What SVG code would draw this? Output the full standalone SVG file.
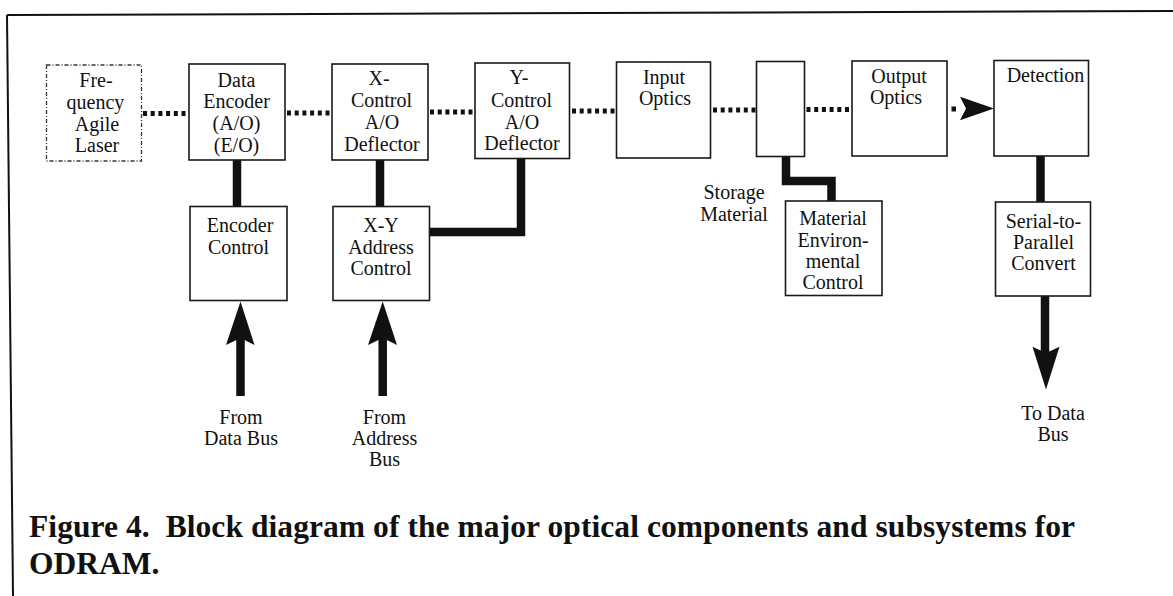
<svg xmlns="http://www.w3.org/2000/svg" width="1173" height="596" viewBox="0 0 1173 596">
<defs>
<style>
.bg{fill:#ffffff}
.box{fill:#ffffff;stroke:#1a1a1a;stroke-width:1.6}
.dash{fill:#ffffff;stroke:#333333;stroke-width:1.3;stroke-dasharray:4 2 1 2}
.frame{fill:none;stroke:#111111;stroke-width:2}
.dot{fill:none;stroke:#111111;stroke-width:5;stroke-dasharray:4 3.7}
.thick{fill:none;stroke:#111111;stroke-width:8.5;stroke-linejoin:miter}
.head{fill:#111111;stroke:none}
text{font-family:"Liberation Serif","Times New Roman",serif;font-size:20px;fill:#111111;text-anchor:middle}
.cap{font-size:31.5px;font-weight:bold;text-anchor:start}
</style>
</defs>
<rect class="bg" x="0" y="0" width="1173" height="596"/>
<g id="frame">
<path class="frame" d="M7,15 L1173,11"/>
<path class="frame" d="M7,15 L13,596"/>
</g>
<g id="connectors">
<path class="dot" d="M143,113.5 H189"/>
<path class="dot" d="M287,113 H332"/>
<path class="dot" d="M430,112 H475"/>
<path class="dot" d="M572,111 H616.5"/>
<path class="dot" d="M713,110 H756.5"/>
<path class="dot" d="M806.5,109.5 H852"/>
<rect class="head" x="951.5" y="106.5" width="4.5" height="5"/>
<polygon class="head" points="994,108.5 960,96.7 966,108.5 960,120.3"/>
<path class="thick" d="M237,160 V206.5"/>
<path class="thick" d="M380,160 V206.5"/>
<path class="thick" d="M521,158.5 V232 H429.5"/>
<path class="thick" d="M786,156.5 V181 H831.5 V201"/>
<path class="thick" d="M1040.5,156 V202"/>
<path class="thick" d="M240.5,396 V338"/>
<polygon class="head" points="240.5,301.5 254.5,345 240.5,338 226,345"/>
<path class="thick" d="M382.7,396 V338"/>
<polygon class="head" points="382.7,301.5 397,345 382.7,338 368,345"/>
<path class="thick" d="M1045,296 V354"/>
<polygon class="head" points="1046,389.5 1059.5,346.7 1046,353 1032.5,346.7"/>
</g>
<g id="laser">
<rect class="dash" x="46.5" y="65" width="95" height="96"/>
<text x="96" y="87">Fre-</text>
<text x="95.5" y="108.5">quency</text>
<text x="97" y="130.5">Agile</text>
<text x="97" y="152">Laser</text>
</g>
<g id="data-encoder">
<rect class="box" x="189" y="64" width="96" height="96"/>
<text x="236.5" y="86.5">Data</text>
<text x="236.5" y="108">Encoder</text>
<text x="236.5" y="130">(A/O)</text>
<text x="236.5" y="151.5">(E/O)</text>
</g>
<g id="x-deflector">
<rect class="box" x="332" y="64" width="96" height="96"/>
<text x="379" y="85">X-</text>
<text x="381.5" y="107">Control</text>
<text x="382" y="129">A/O</text>
<text x="382" y="151">Deflector</text>
</g>
<g id="y-deflector">
<rect class="box" x="475" y="63" width="94.5" height="95.5"/>
<text x="519" y="84">Y-</text>
<text x="521.5" y="106.5">Control</text>
<text x="522" y="128.5">A/O</text>
<text x="522" y="150">Deflector</text>
</g>
<g id="input-optics">
<rect class="box" x="616.5" y="62" width="94" height="96"/>
<text x="664" y="84">Input</text>
<text x="665" y="105">Optics</text>
</g>
<g id="storage-material">
<rect class="box" x="756.5" y="61.5" width="48" height="95"/>
<text x="734" y="199">Storage</text>
<text x="734" y="220.5">Material</text>
</g>
<g id="output-optics">
<rect class="box" x="852" y="61" width="95" height="95"/>
<text x="899" y="82.5">Output</text>
<text x="896" y="104">Optics</text>
</g>
<g id="detection">
<rect class="box" x="994" y="60.5" width="94.5" height="95.5"/>
<text x="1045.5" y="81.5">Detection</text>
</g>
<g id="encoder-control">
<rect class="box" x="190" y="206.5" width="97" height="94"/>
<text x="240" y="232">Encoder</text>
<text x="238.5" y="254">Control</text>
</g>
<g id="xy-address-control">
<rect class="box" x="333" y="206.5" width="96.5" height="94"/>
<text x="381" y="231.5">X-Y</text>
<text x="381" y="253.5">Address</text>
<text x="381" y="275">Control</text>
</g>
<g id="material-environmental-control">
<rect class="box" x="785.5" y="201" width="96.5" height="94.5"/>
<text x="833" y="225">Material</text>
<text x="833" y="246.5">Environ-</text>
<text x="833" y="268">mental</text>
<text x="833" y="288.5">Control</text>
</g>
<g id="serial-to-parallel">
<rect class="box" x="995.5" y="202" width="95" height="94"/>
<text x="1043.5" y="227.5">Serial-to-</text>
<text x="1043.5" y="249">Parallel</text>
<text x="1043.5" y="270">Convert</text>
</g>
<g id="from-data-bus">
<text x="241" y="423.5">From</text>
<text x="241" y="445">Data Bus</text>
</g>
<g id="from-address-bus">
<text x="384.5" y="423.5">From</text>
<text x="384.5" y="445">Address</text>
<text x="384.5" y="466">Bus</text>
</g>
<g id="to-data-bus">
<text x="1053" y="419.5">To Data</text>
<text x="1053" y="441">Bus</text>
</g>
<g id="caption">
<text class="cap" x="29" y="537" textLength="1046" lengthAdjust="spacing" xml:space="preserve">Figure 4.  Block diagram of the major optical components and subsystems for</text>
<text class="cap" x="29" y="574">ODRAM.</text>
</g>
</svg>
